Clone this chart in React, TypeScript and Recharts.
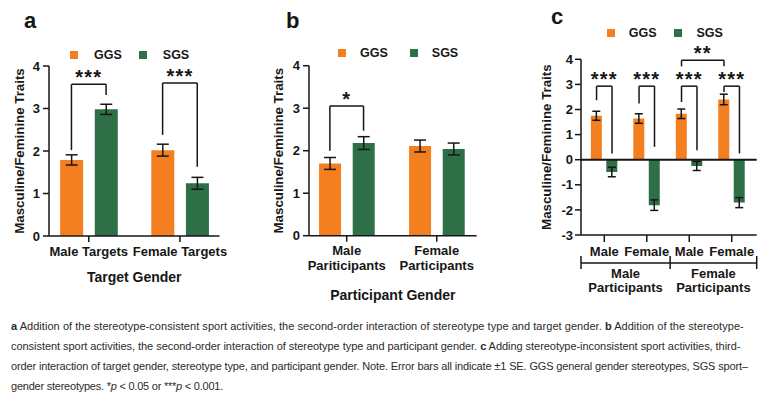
import React from 'react';
import { BarChart, Bar, XAxis, YAxis, ErrorBar, ReferenceLine, Legend } from 'recharts';

const ORANGE = '#F47F20';
const GREEN = '#2E6F47';
const INK = '#161616';
const FONT = '"Liberation Sans", Arial, Helvetica, sans-serif';

// a: stereotype type x target gender
const targetLabels = [['Male Targets'], ['Female Targets']];
const ggsA = [1.79, 2.02];
const sgsA = [2.98, 1.24];
const ggsErrA = [0.12, 0.14];
const sgsErrA = [0.12, 0.14];

// b: stereotype type x participant gender
const participantLabelsB = [['Male', 'Pariticipants'], ['Female', 'Participants']];
const ggsB = [1.7, 2.11];
const sgsB = [2.18, 2.04];
const ggsErrB = [0.14, 0.14];
const sgsErrB = [0.15, 0.14];

// c: target gender x stereotype type x participant gender
const targetLabelsC = [['Male'], ['Female'], ['Male'], ['Female']];
const participantLabelsC = [['Male', 'Participants'], ['Female', 'Participants']];
const ggsC = [1.75, 1.64, 1.83, 2.4];
const sgsC = [-0.49, -1.81, -0.25, -1.71];
const ggsErrC = [0.18, 0.19, 0.19, 0.21];
const sgsErrC = [0.19, 0.21, 0.18, 0.2];

type Side = 'g' | 's';
type Bracket = { from: [number, Side]; to: [number, Side]; left: number; top: number; right: number; text: string };

const bracketsA: Bracket[] = [
  { from: [0, 'g'], to: [0, 's'], left: 2.02, top: 3.57, right: 3.32, text: '***' },
  { from: [1, 'g'], to: [1, 's'], left: 2.38, top: 3.6, right: 1.63, text: '***' },
];
const bracketsB: Bracket[] = [
  { from: [0, 'g'], to: [0, 's'], left: 2.0, top: 3.05, right: 2.47, text: '*' },
];
const bracketsC: Bracket[] = [
  { from: [0, 'g'], to: [0, 's'], left: 2.37, top: 2.93, right: 0.25, text: '***' },
  { from: [1, 'g'], to: [1, 's'], left: 2.24, top: 2.93, right: 0.51, text: '***' },
  { from: [2, 'g'], to: [2, 's'], left: 2.3, top: 2.93, right: 0.38, text: '***' },
  { from: [3, 'g'], to: [3, 's'], left: 2.7, top: 2.93, right: 0.25, text: '***' },
  { from: [2, 'g'], to: [3, 'g'], left: 3.72, top: 3.96, right: 3.72, text: '**' },
];

function buildRows(ggs: number[], sgs: number[], ggsErr: number[], sgsErr: number[], off: number) {
  return ggs.flatMap((v, i) => [
    { x: i + 1 - off, ggs: v, ggsErr: ggsErr[i] },
    { x: i + 1 + off, sgs: sgs[i], sgsErr: sgsErr[i] },
  ]);
}

const makeTick = (labels: string[][], firstDy: number, lineGap: number) => (props: any) => {
  const { x, y, payload } = props;
  const lines = labels[Math.round(payload.value) - 1] || [];
  return (
    <text x={x} y={y} textAnchor="middle" fill={INK} fontSize={13} fontWeight={700} fontFamily={FONT}>
      {lines.map((l, i) => (
        <tspan key={i} x={x} y={y + firstDy + i * lineGap}>{l}</tspan>
      ))}
    </text>
  );
};

const axisTitle = (text: string, dy: number) => (props: any) => {
  const vb = props.viewBox;
  return (
    <text x={vb.x + vb.width / 2} y={vb.y + dy} textAnchor="middle" dominantBaseline="central"
      fill={INK} fontSize={14} fontWeight={700} fontFamily={FONT}>{text}</text>
  );
};

const yTitle = (cx: number) => (props: any) => {
  const vb = props.viewBox;
  const cy = vb.y + vb.height / 2;
  return (
    <text x={cx} y={cy} transform={`rotate(-90 ${cx} ${cy})`} textAnchor="middle" dominantBaseline="central"
      fill={INK} fontSize={13.3} fontWeight={700} fontFamily={FONT}>Masculine/Feminine Traits</text>
  );
};

const legendContent = (gapIcon: number, gapItem: number) => (props: any) => (
  <div style={{ display: 'flex', alignItems: 'center', fontFamily: FONT, fontSize: 12.5, fontWeight: 700, color: INK, lineHeight: '14px' }}>
    {(props.payload || []).map((p: any, i: number) => (
      <div key={i} style={{ display: 'flex', alignItems: 'center', marginRight: gapItem }}>
        <span style={{ display: 'inline-block', width: 8, height: 8, background: p.color, marginRight: gapIcon }} />
        <span>{p.value}</span>
      </div>
    ))}
  </div>
);

const starLabel = (text: string) => (props: any) => {
  const vb = props.viewBox;
  return (
    <text x={vb.x + vb.width / 2} y={vb.y} textAnchor="middle" fill={INK} fontSize={20} fontWeight={700}
      letterSpacing={1.2} fontFamily={FONT}>{text}</text>
  );
};

function bracketLines(list: Bracket[], off: number) {
  const pos = (g: number, s: Side) => g + 1 + (s === 'g' ? -off : off);
  const line = { stroke: INK, strokeWidth: 1.5, ifOverflow: 'visible' as const };
  return list.flatMap((b, i) => {
    const x1 = pos(b.from[0], b.from[1]);
    const x2 = pos(b.to[0], b.to[1]);
    return [
      <ReferenceLine key={`l${i}`} segment={[{ x: x1, y: b.left }, { x: x1, y: b.top }]} {...line} />,
      <ReferenceLine key={`t${i}`} segment={[{ x: x1, y: b.top }, { x: x2, y: b.top }]} {...line} label={starLabel(b.text)} />,
      <ReferenceLine key={`r${i}`} segment={[{ x: x2, y: b.top }, { x: x2, y: b.right }]} {...line} />,
    ];
  });
}

const axisLine = { stroke: INK, strokeWidth: 1.5 };
const yTick = { fill: INK, fontSize: 13, fontWeight: 700, fontFamily: FONT };

function PanelLetter({ text, x, top }: { text: string; x: number; top: number }) {
  return (
    <div style={{ position: 'absolute', left: x, top, fontSize: 22, lineHeight: '22px', fontWeight: 700, color: INK, fontFamily: FONT }}>{text}</div>
  );
}

function PanelA() {
  const off = 0.19;
  const rows = buildRows(ggsA, sgsA, ggsErrA, sgsErrA, off);
  return (
    <div style={{ position: 'absolute', left: 0, top: 0, width: 260, height: 310 }}>
      <PanelLetter text="a" x={24} top={9.7} />
      <BarChart width={260} height={310} data={rows} margin={{ top: 66, right: 40.5, bottom: 14, left: 0 }}>
        <XAxis type="number" dataKey="x" domain={[0.5637, 2.434]} allowDataOverflow ticks={[1, 2]} interval={0}
          tickSize={6} axisLine={axisLine} tickLine={axisLine} height={60}
          tick={makeTick(targetLabels, 12.3, 15)} label={axisTitle('Target Gender', 40.7)} />
        <YAxis type="number" domain={[0, 4]} ticks={[0, 1, 2, 3, 4]} interval={0} width={49} tickSize={6} tickMargin={3}
          axisLine={axisLine} tickLine={axisLine} tick={yTick} label={yTitle(19.3)} />
        <Legend layout="horizontal" verticalAlign="middle" align="center" wrapperStyle={{ top: 48, left: 70, width: 180 }}
          content={legendContent(16, 17)} />
        <Bar dataKey="ggs" name="GGS" fill={ORANGE} stackId="k" barSize={23} isAnimationActive={false}>
          <ErrorBar dataKey="ggsErr" width={6} stroke={INK} strokeWidth={1.5} direction="y" />
        </Bar>
        <Bar dataKey="sgs" name="SGS" fill={GREEN} stackId="k" barSize={23} isAnimationActive={false}>
          <ErrorBar dataKey="sgsErr" width={6} stroke={INK} strokeWidth={1.5} direction="y" />
        </Bar>
        {bracketLines(bracketsA, off)}
      </BarChart>
    </div>
  );
}

function PanelB() {
  const off = 0.187;
  const rows = buildRows(ggsB, sgsB, ggsErrB, sgsErrB, off);
  return (
    <div style={{ position: 'absolute', left: 260, top: 0, width: 260, height: 310 }}>
      <PanelLetter text="b" x={26} top={9.7} />
      <BarChart width={260} height={310} data={rows} margin={{ top: 65.7, right: 43.3, bottom: 14.3, left: 0 }}>
        <XAxis type="number" dataKey="x" domain={[0.581, 2.444]} allowDataOverflow ticks={[1, 2]} interval={0}
          tickSize={6} axisLine={axisLine} tickLine={axisLine} height={60}
          tick={makeTick(participantLabelsB, 10.9, 15.7)} label={axisTitle('Participant Gender', 59.3)} />
        <YAxis type="number" domain={[0, 4]} ticks={[0, 1, 2, 3, 4]} interval={0} width={49} tickSize={6} tickMargin={3}
          axisLine={axisLine} tickLine={axisLine} tick={yTick} label={yTitle(18.3)} />
        <Legend layout="horizontal" verticalAlign="middle" align="center" wrapperStyle={{ top: 46.3, left: 78, width: 180 }}
          content={legendContent(14, 22)} />
        <Bar dataKey="ggs" name="GGS" fill={ORANGE} stackId="k" barSize={22} isAnimationActive={false}>
          <ErrorBar dataKey="ggsErr" width={6} stroke={INK} strokeWidth={1.5} direction="y" />
        </Bar>
        <Bar dataKey="sgs" name="SGS" fill={GREEN} stackId="k" barSize={22} isAnimationActive={false}>
          <ErrorBar dataKey="sgsErr" width={6} stroke={INK} strokeWidth={1.5} direction="y" />
        </Bar>
        {bracketLines(bracketsB, off)}
      </BarChart>
    </div>
  );
}

function PanelC() {
  const off = 0.182;
  const rows = buildRows(ggsC, sgsC, ggsErrC, sgsErrC, off);
  const domain: [number, number] = [0.4514, 4.588];
  const bounds = [domain[0], 2.55, domain[1]];
  const centers = [(bounds[0] + bounds[1]) / 2, (bounds[1] + bounds[2]) / 2];
  const groupTick = (props: any) => {
    const { x, y, payload } = props;
    const v = payload.value;
    if (bounds.includes(v)) {
      return <line x1={x} x2={x} y1={y - 7} y2={y + 6} stroke={INK} strokeWidth={1.5} />;
    }
    const lines = participantLabelsC[centers.indexOf(v)] || [];
    return (
      <text x={x} y={y} textAnchor="middle" fill={INK} fontSize={13} fontWeight={700} fontFamily={FONT}>
        {lines.map((l, i) => (
          <tspan key={i} x={x} y={y + 14.9 + i * 14.4}>{l}</tspan>
        ))}
      </text>
    );
  };
  return (
    <div style={{ position: 'absolute', left: 520, top: 0, width: 251, height: 310 }}>
      <PanelLetter text="c" x={31} top={6.4} />
      <BarChart width={251} height={310} data={rows} margin={{ top: 59.3, right: 14.3, bottom: 7, left: 0 }}>
        <XAxis type="number" dataKey="x" domain={domain} allowDataOverflow ticks={[1, 2, 3, 4]} interval={0}
          tickSize={7} axisLine={axisLine} tickLine={axisLine} height={28}
          tick={makeTick(targetLabelsC, 11.6, 15)} />
        <XAxis xAxisId="grp" type="number" dataKey="x" domain={domain} allowDataOverflow ticks={[...bounds, ...centers]}
          interval={0} tickSize={0} tickMargin={0} tickLine={false} axisLine={axisLine} height={40} tick={groupTick} />
        <YAxis type="number" domain={[-3, 4]} ticks={[-3, -2, -1, 0, 1, 2, 3, 4]} interval={0} width={61} tickSize={6} tickMargin={2}
          axisLine={axisLine} tickLine={axisLine} tick={yTick} label={yTitle(27)} />
        <Legend layout="horizontal" verticalAlign="middle" align="center" wrapperStyle={{ top: 26.3, left: 86.7, width: 160 }}
          content={legendContent(14, 18)} />
        <Bar dataKey="ggs" name="GGS" fill={ORANGE} stackId="k" barSize={11} isAnimationActive={false}>
          <ErrorBar dataKey="ggsErr" width={4} stroke={INK} strokeWidth={1.5} direction="y" />
        </Bar>
        <Bar dataKey="sgs" name="SGS" fill={GREEN} stackId="k" barSize={11} isAnimationActive={false}>
          <ErrorBar dataKey="sgsErr" width={4} stroke={INK} strokeWidth={1.5} direction="y" />
        </Bar>
        <ReferenceLine y={0} stroke={INK} strokeWidth={2} />
        {bracketLines(bracketsC, off)}
      </BarChart>
    </div>
  );
}

function Caption() {
  const line = (top: number, spacing: number, content: React.ReactNode) => (
    <div style={{ position: 'absolute', left: 11, top, whiteSpace: 'nowrap', lineHeight: '14px', letterSpacing: spacing }}>{content}</div>
  );
  return (
    <div style={{ position: 'absolute', left: 0, top: 310, width: 771, height: 89, fontFamily: FONT, fontSize: 11, color: '#2b2b2b' }}>
      {line(9, 0.045, <><b>a</b> Addition of the stereotype-consistent sport activities, the second-order interaction of stereotype type and target gender. <b>b</b> Addition of the stereotype-</>)}
      {line(29, -0.047, <>consistent sport activities, the second-order interaction of stereotype type and participant gender. <b>c</b> Adding stereotype-inconsistent sport activities, third-</>)}
      {line(49, -0.14, <>order interaction of target gender, stereotype type, and participant gender. Note. Error bars all indicate ±1 SE. GGS general gender stereotypes, SGS sport–</>)}
      {line(69, -0.23, <>gender stereotypes. *<i>p</i> &lt; 0.05 or ***<i>p</i> &lt; 0.001.</>)}
    </div>
  );
}

export default function App() {
  return (
    <div style={{ position: 'absolute', left: 0, top: 0, width: 771, height: 399, background: '#fff', overflow: 'hidden', fontFamily: FONT }}>
      <PanelA />
      <PanelB />
      <PanelC />
      <Caption />
    </div>
  );
}
